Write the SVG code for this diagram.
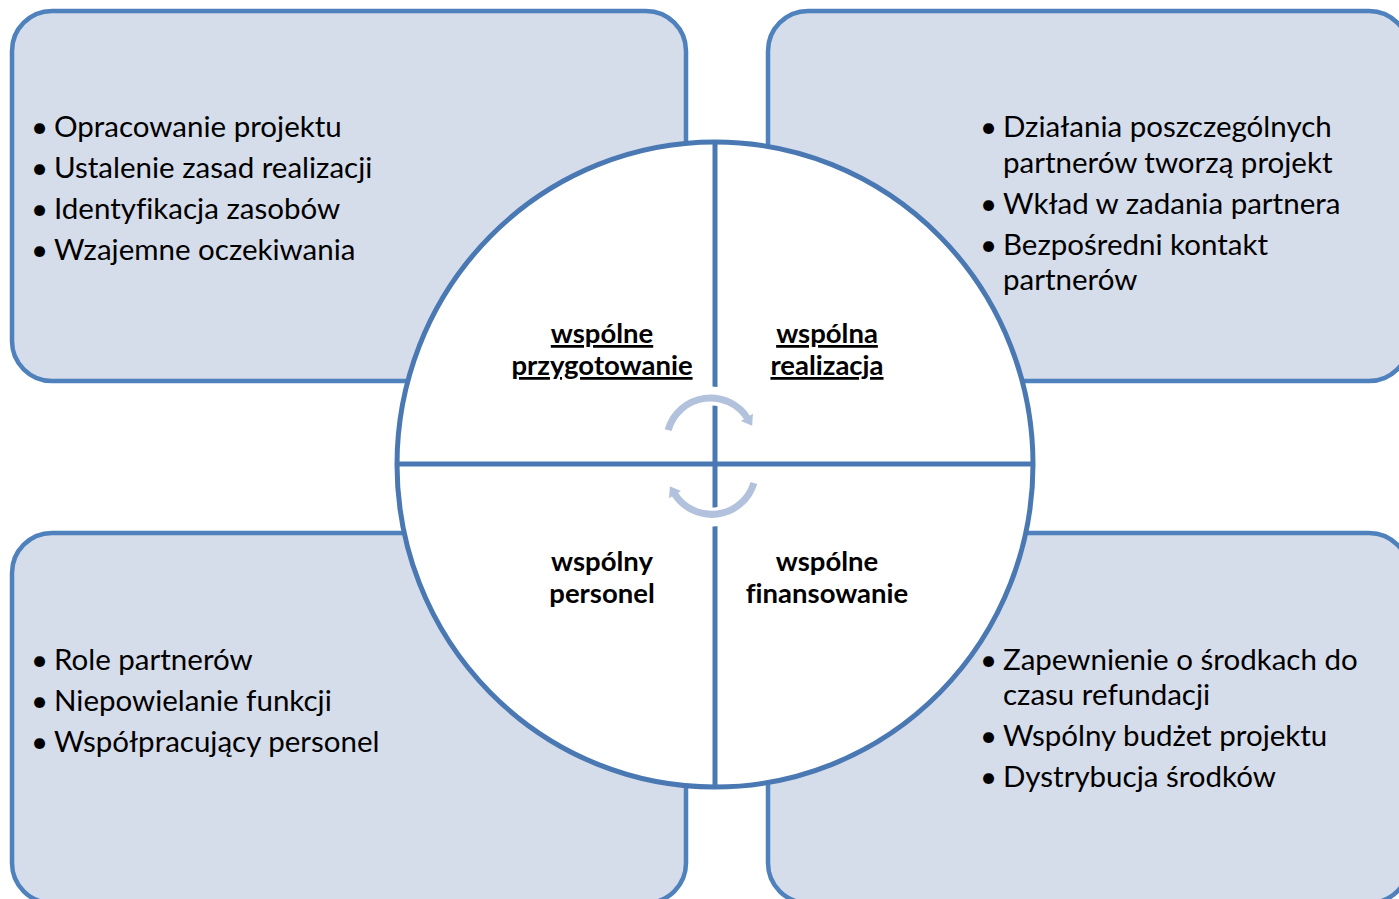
<svg xmlns="http://www.w3.org/2000/svg" width="1399" height="899" viewBox="0 0 1399 899">
<defs>
<style>
.box{fill:#D5DCEA;stroke:#4F81BD;stroke-width:4.5}
.circ{fill:#FFFFFF;stroke:#4A78B3;stroke-width:5}
.div{stroke:#4A78B3;stroke-width:5;fill:none}
.halo{stroke:#FFFFFF;stroke-width:19;fill:none}
.arc{stroke:#B2C2DD;stroke-width:7;fill:none}
.t{font-family:Lato,"Liberation Sans",sans-serif;font-size:29.5px;fill:#000;font-variant-ligatures:none}
.lbl{font-family:Lato,"Liberation Sans",sans-serif;font-size:27.5px;font-weight:bold;fill:#000;text-anchor:middle;font-variant-ligatures:none}
.u{text-decoration:underline}
</style>
<marker id="ah" markerUnits="userSpaceOnUse" markerWidth="20" markerHeight="20" refX="2" refY="0" viewBox="-2 -10 20 20" orient="auto">
<path d="M0,-7 L10,0 L0,7 z" fill="#B2C2DD"/>
</marker>
</defs>
<rect width="1399" height="899" fill="#FFFFFF"/>
<g id="box-tl"><rect class="box" x="12" y="11" width="674" height="370" rx="40" ry="40"/>
<text class="t" x="31" y="137">•</text><text class="t" x="54" y="137">Opracowanie projektu</text>
<text class="t" x="31" y="178">•</text><text class="t" x="54" y="178">Ustalenie zasad realizacji</text>
<text class="t" x="31" y="219">•</text><text class="t" x="54" y="219">Identyfikacja zasobów</text>
<text class="t" x="31" y="260">•</text><text class="t" x="54" y="260">Wzajemne oczekiwania</text>
</g>
<g id="box-tr"><rect class="box" x="768" y="11" width="641" height="370" rx="40" ry="40"/>
<text class="t" x="980" y="137">•</text><text class="t" x="1003" y="137">Działania poszczególnych</text>
<text class="t" x="1003" y="173">partnerów tworzą projekt</text>
<text class="t" x="980" y="214">•</text><text class="t" x="1003" y="214">Wkład w zadania partnera</text>
<text class="t" x="980" y="255">•</text><text class="t" x="1003" y="255">Bezpośredni kontakt</text>
<text class="t" x="1003" y="290">partnerów</text>
</g>
<g id="box-bl"><rect class="box" x="12" y="533" width="674" height="370" rx="40" ry="40"/>
<text class="t" x="31" y="670">•</text><text class="t" x="54" y="670">Role partnerów</text>
<text class="t" x="31" y="711">•</text><text class="t" x="54" y="711">Niepowielanie funkcji</text>
<text class="t" x="31" y="752">•</text><text class="t" x="54" y="752">Współpracujący personel</text>
</g>
<g id="box-br"><rect class="box" x="768" y="533" width="641" height="370" rx="40" ry="40"/>
<text class="t" x="980" y="670">•</text><text class="t" x="1003" y="670">Zapewnienie o środkach do</text>
<text class="t" x="1003" y="705">czasu refundacji</text>
<text class="t" x="980" y="746">•</text><text class="t" x="1003" y="746">Wspólny budżet projektu</text>
<text class="t" x="980" y="787">•</text><text class="t" x="1003" y="787">Dystrybucja środków</text>
</g>
<g id="circle">
<ellipse class="circ" cx="715" cy="464.5" rx="318" ry="322.5"/>
<line class="div" x1="715" y1="142" x2="715" y2="787"/>
<line class="div" x1="397" y1="464" x2="1033" y2="464"/>
</g>
<g id="connectors">
<path class="halo" d="M668.1,430.1 A44,44 0 0,1 750.9,421.4"/>
<path class="halo" d="M753.9,482.9 A44,44 0 0,1 671.1,491.6"/>
<path class="arc" d="M668.1,430.1 A44,44 0 0,1 748,419" marker-end="url(#ah)"/>
<path class="arc" d="M753.9,482.9 A44,44 0 0,1 674,493" marker-end="url(#ah)"/>
</g>
<g id="q-tl"><text class="lbl u" x="602" y="343">wspólne</text><text class="lbl u" x="602" y="375">przygotowanie</text></g>
<g id="q-tr"><text class="lbl u" x="827" y="343">wspólna</text><text class="lbl u" x="827" y="375">realizacja</text></g>
<g id="q-bl"><text class="lbl" x="602" y="571">wspólny</text><text class="lbl" x="602" y="603">personel</text></g>
<g id="q-br"><text class="lbl" x="827" y="571">wspólne</text><text class="lbl" x="827" y="603">finansowanie</text></g>
</svg>
